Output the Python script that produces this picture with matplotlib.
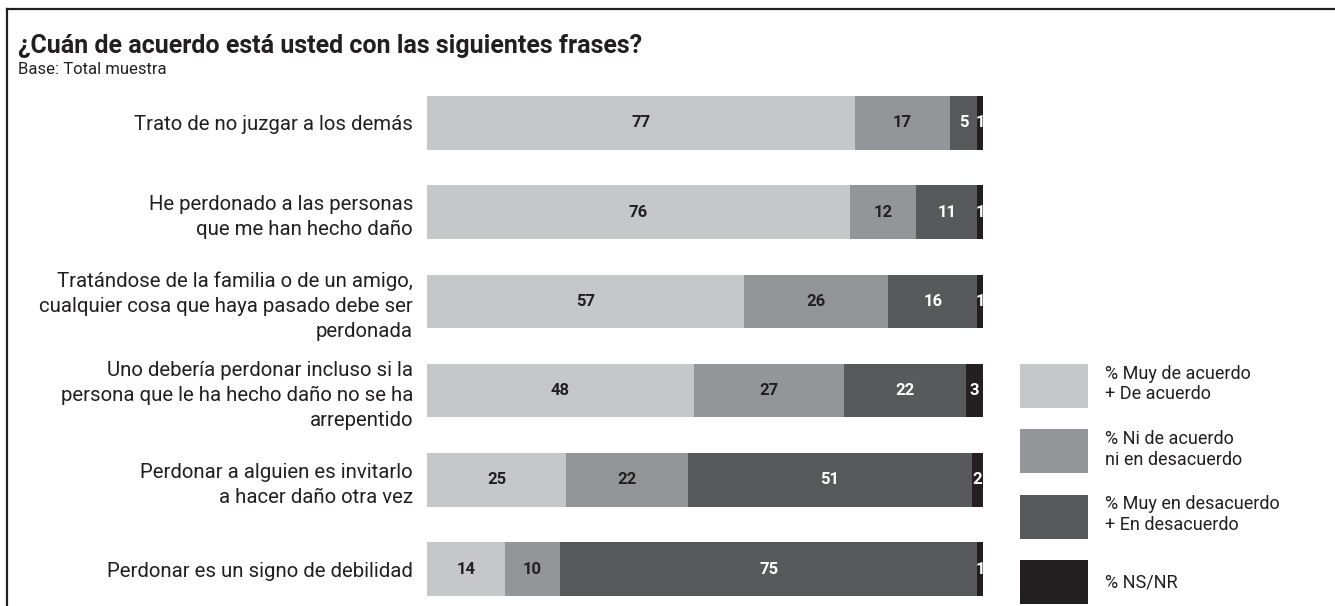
import matplotlib.pyplot as plt
from matplotlib.lines import Line2D

plt.rcParams['font.family'] = ['Roboto', 'DejaVu Sans']

frases = [
    'Trato de no juzgar a los demás',
    'He perdonado a las personas\nque me han hecho daño',
    'Tratándose de la familia o de un amigo,\ncualquier cosa que haya pasado debe ser\nperdonada',
    'Uno debería perdonar incluso si la\npersona que le ha hecho daño no se ha\narrepentido',
    'Perdonar a alguien es invitarlo\na hacer daño otra vez',
    'Perdonar es un signo de debilidad',
]
de_acuerdo = [77, 76, 57, 48, 25, 14]
ni_ni = [17, 12, 26, 27, 22, 10]
desacuerdo = [5, 11, 16, 22, 51, 75]
ns_nr = [1, 1, 1, 3, 2, 1]

series = [de_acuerdo, ni_ni, desacuerdo, ns_nr]
nombres = ['% Muy de acuerdo\n+ De acuerdo', '% Ni de acuerdo\nni en desacuerdo',
           '% Muy en desacuerdo\n+ En desacuerdo', '% NS/NR']
colores = ['#c6c7c9', '#939598', '#58595b', '#231f20']
color_texto = ['#231f20', '#231f20', 'white', 'white']

fig = plt.figure(figsize=(13.35, 6.06), dpi=100)
ax = fig.add_axes([427 / 1335, 1 - 596 / 606, 556 / 1335, 500 / 606])

y = list(range(len(frases)))
izq = [0] * len(frases)
for vals, nom, col, tcol in zip(series, nombres, colores, color_texto):
    barras = ax.barh(y, vals, left=izq, height=0.6, color=col, label=nom)
    ax.bar_label(barras, label_type='center', color=tcol, fontweight='bold', fontsize=12)
    izq = [a + b for a, b in zip(izq, vals)]

ax.set_xlim(0, 100)
ax.set_ylim(len(frases) - 1 + 0.3, -0.3)
ax.set_yticks(y)
ax.set_yticklabels(frases, fontsize=14.7, color='#231f20', linespacing=1.4, ha='right')
ax.tick_params(axis='y', length=0, pad=10)
ax.set_xticks([])
for s in ax.spines.values():
    s.set_visible(False)

ax.legend(loc='upper left', bbox_to_anchor=(1020 / 1335, 1 - 364 / 606),
          bbox_transform=fig.transFigure, frameon=False, fontsize=13,
          handlelength=3.77, handleheight=3.35, labelspacing=1.2,
          handletextpad=0.94, borderpad=0, borderaxespad=0, labelcolor='#231f20')

fig.text(18 / 1335, 1 - 46 / 606, '¿Cuán de acuerdo está usted con las siguientes frases?',
         fontsize=18, fontweight='bold', color='#231f20', va='center')
fig.text(18 / 1335, 1 - 70 / 606, 'Base: Total muestra', fontsize=12,
         color='#231f20', va='center')

fig.add_artist(Line2D([7 / 1335, 1], [1 - 9 / 606, 1 - 9 / 606],
                      transform=fig.transFigure, color='#231f20', lw=1.6))
fig.add_artist(Line2D([7 / 1335, 7 / 1335], [0, 1 - 9 / 606],
                      transform=fig.transFigure, color='#231f20', lw=1.6))

fig.savefig('out.png', dpi=100)
